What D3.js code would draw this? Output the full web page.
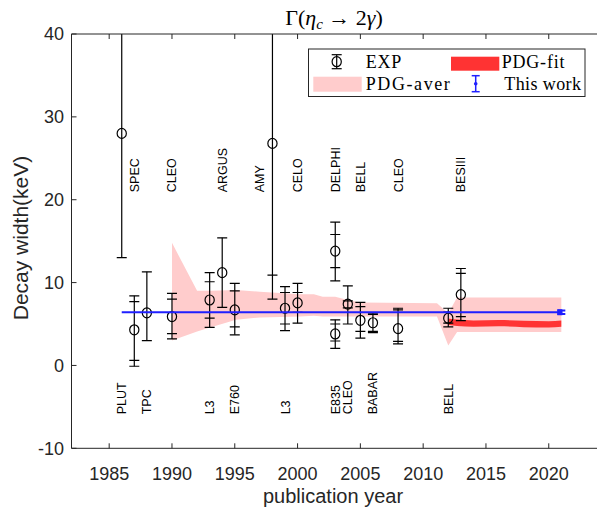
<!DOCTYPE html>
<html>
<head>
<meta charset="utf-8">
<script src="https://cdn.jsdelivr.net/npm/d3@7"></script>
<style>
  body { margin: 0; background: #fff; }
  svg { display: block; }
</style>
</head>
<body>
<svg></svg>
<script>
var width = 597;
var height = 509;

// experiments: year, central value, outer (total) and inner error bar ends
var expYears  = [1986, 1987, 1988, 1990, 1993, 1994, 1995, 1998, 1999, 2000, 2003, 2003, 2004, 2005, 2006, 2008, 2012, 2013];
var expValues = [28, 4.3, 6.35, 5.9, 7.9, 11.2, 6.7, 26.8, 6.9, 7.55, 13.8, 3.8, 7.4, 5.45, 5.15, 4.45, 5.7, 8.55];
var outerHi   = [48, 8.4, 11.3, 8.7, 11.2, 15.4, 9.9, 48, 9.5, 9.9, 17.3, 5.5, 9.6, 7.6, 6.3, 6.9, 6.9, 11.7];
var outerLo   = [13, -0.1, 3.0, 3.2, 4.6, 7.0, 3.7, 8.0, 4.2, 5.1, 10.2, 2.05, 5.0, 3.3, 3.95, 2.6, 4.65, 5.4];
var innerHi   = [null, 7.7, null, 8.0, 10.1, null, 9.0, 45, 8.8, 8.8, 15.8, 5.0, 7.8, 7.1, 6.15, 6.7, 6.45, 11.1];
var innerLo   = [null, 0.6, null, 3.85, 5.7, null, 4.65, 10.9, 5.0, 6.4, 11.8, 2.95, 6.95, 4.1, 4.1, 2.9, 5.1, 5.9];

// experiment names
var topLabels = ["SPEC", "CLEO", "ARGUS", "AMY", "CELO", "DELPHI", "BELL", "CLEO", "BESIII"];
var topLabelYears = [1987, 1990, 1994, 1997, 2000, 2003, 2005, 2008, 2013];
var bottomLabels = ["PLUT", "TPC", "L3", "E760", "L3", "E835", "CLEO", "BABAR", "BELL"];
var bottomLabelYears = [1986, 1988, 1993, 1995, 1999, 2003, 2004, 2006, 2012];

// PDG average band
var bandYears = [1990, 1992, 1993.1, 1995.1, 1997, 2000.2, 2001.3, 2002, 2003, 2004, 2005, 2011.1, 2012, 2012.7, 2021];
var bandHigh  = [14.8, 9.0, 9.0, 9.1, 8.9, 8.6, 8.6, 8.3, 8.3, 7.9, 7.6, 7.5, 6.3, 8.2, 8.2];
var bandLow   = [3.0, 4.1, 4.6, 5.5, 5.8, 5.9, 6.0, 5.9, 5.9, 5.9, 5.9, 5.9, 2.4, 4.05, 4.05];

// PDG fit
var fitYears  = [2012, 2012.7, 2014, 2016, 2018, 2020, 2021];
var fitValues = [5.3, 5.15, 5.05, 5.1, 5.0, 4.95, 5.05];
var fitErr = 0.38;

// this work
var thisWorkValue = 6.42;
var thisWorkErr = 0.2;
var thisWorkYears = [1986, 2021];

var xTicks = [1985, 1990, 1995, 2000, 2005, 2010, 2015, 2020];
var yTicks = [-10, 0, 10, 20, 30, 40];

var plotLeft = 71.5, plotRight = 599, plotTop = 34, plotBottom = 448.3;

var svg = d3.select("svg")
    .attr("width", width)
    .attr("height", height);

var xScale = d3.scaleLinear().domain([1982, 2024]).range([plotLeft, plotRight]);
var yScale = d3.scaleLinear().domain([-10, 40]).range([plotBottom, plotTop]);

svg.append("clipPath").attr("id", "plot-clip")
  .append("rect")
    .attr("x", plotLeft).attr("y", plotTop)
    .attr("width", plotRight - plotLeft).attr("height", plotBottom - plotTop);

var plot = svg.append("g").attr("clip-path", "url(#plot-clip)");

// band
var band = bandYears.map((y, i) => ({x: y, lo: bandLow[i], hi: bandHigh[i]}));
plot.append("path")
    .datum(band)
    .attr("fill", "#ffcccc")
    .attr("d", d3.area().x(d => xScale(d.x)).y0(d => yScale(d.lo)).y1(d => yScale(d.hi)));

// fit
var fit = fitYears.map((y, i) => ({x: y, v: fitValues[i]}));
plot.append("path")
    .datum(fit)
    .attr("fill", "#ff3333")
    .attr("d", d3.area().curve(d3.curveMonotoneX)
      .x(d => xScale(d.x)).y0(d => yScale(d.v - fitErr)).y1(d => yScale(d.v + fitErr)));

// experimental points
var exps = expYears.map((y, i) => ({
  x: y, v: expValues[i], oh: outerHi[i], ol: outerLo[i], ih: innerHi[i], il: innerLo[i]
}));
var capW = 5;
var g = plot.selectAll(".exp").data(exps).enter().append("g")
    .attr("class", "exp")
    .attr("stroke", "#000")
    .attr("stroke-width", 1.2)
    .attr("fill", "none");

g.append("line")
    .attr("x1", d => xScale(d.x)).attr("x2", d => xScale(d.x))
    .attr("y1", d => yScale(d.ol)).attr("y2", d => yScale(d.oh));
["oh", "ol", "ih", "il"].forEach(function(k) {
  g.filter(d => d[k] !== null).append("line")
      .attr("x1", d => xScale(d.x) - capW).attr("x2", d => xScale(d.x) + capW)
      .attr("y1", d => yScale(d[k])).attr("y2", d => yScale(d[k]));
});
g.append("ellipse")
    .attr("cx", d => xScale(d.x)).attr("cy", d => yScale(d.v))
    .attr("rx", 4.6).attr("ry", 5);

// this work
plot.append("line")
    .attr("x1", xScale(thisWorkYears[0])).attr("x2", xScale(thisWorkYears[1]))
    .attr("y1", yScale(thisWorkValue)).attr("y2", yScale(thisWorkValue))
    .attr("stroke", "#1f1fff").attr("stroke-width", 2);
var tw = plot.append("g").attr("stroke", "#1f1fff").attr("stroke-width", 2);
var twx = xScale(thisWorkYears[1]);
tw.append("line").attr("x1", twx).attr("x2", twx)
    .attr("y1", yScale(thisWorkValue - thisWorkErr)).attr("y2", yScale(thisWorkValue + thisWorkErr));
[thisWorkValue - thisWorkErr, thisWorkValue + thisWorkErr].forEach(function(v) {
  tw.append("line").attr("x1", twx - 4).attr("x2", twx + 4)
      .attr("y1", yScale(v)).attr("y2", yScale(v));
});
tw.append("rect").attr("x", twx - 4).attr("y", yScale(thisWorkValue) - 3)
    .attr("width", 5).attr("height", 6).attr("fill", "#1f1fff").attr("stroke", "none");

// experiment labels
function addLabels(names, yrs, yVal) {
  svg.selectAll(null).data(names).enter().append("text")
      .attr("transform", (d, i) => "translate(" + xScale(yrs[i]) + "," + yScale(yVal) + ") rotate(-90)")
      .attr("dy", "0.36em")
      .style("font-family", "Arial, 'Liberation Sans', sans-serif")
      .style("font-size", "12.5px")
      .attr("fill", "#000")
      .text(d => d);
}
addLabels(topLabels, topLabelYears, 20.9);
addLabels(bottomLabels, bottomLabelYears, -5.9);

// axes frame
var axisColor = "#262626";
svg.append("line").attr("x1", plotLeft).attr("x2", plotLeft).attr("y1", plotTop).attr("y2", plotBottom)
    .attr("stroke", axisColor);
svg.append("line").attr("x1", plotLeft).attr("x2", width).attr("y1", plotBottom).attr("y2", plotBottom)
    .attr("stroke", axisColor);
svg.append("line").attr("x1", plotLeft).attr("x2", width).attr("y1", plotTop).attr("y2", plotTop)
    .attr("stroke", axisColor);

var tickLen = 5;
xTicks.forEach(function(t) {
  var x = xScale(t);
  svg.append("line").attr("x1", x).attr("x2", x).attr("y1", plotBottom).attr("y2", plotBottom - tickLen)
      .attr("stroke", axisColor);
  svg.append("line").attr("x1", x).attr("x2", x).attr("y1", plotTop).attr("y2", plotTop + tickLen)
      .attr("stroke", axisColor);
  svg.append("text").attr("x", x).attr("y", 479.5)
      .attr("text-anchor", "middle")
      .style("font-family", "Arial, 'Liberation Sans', sans-serif")
      .style("font-size", "18px")
      .attr("fill", axisColor)
      .text(t);
});
yTicks.forEach(function(t) {
  var y = yScale(t);
  svg.append("line").attr("x1", plotLeft).attr("x2", plotLeft + tickLen).attr("y1", y).attr("y2", y)
      .attr("stroke", axisColor);
  svg.append("text").attr("x", 64).attr("y", y).attr("dy", "0.36em")
      .attr("text-anchor", "end")
      .style("font-family", "Arial, 'Liberation Sans', sans-serif")
      .style("font-size", "18px")
      .attr("fill", axisColor)
      .text(t);
});

svg.append("text")
    .attr("x", 333).attr("y", 503)
    .attr("text-anchor", "middle")
    .style("font-family", "Arial, 'Liberation Sans', sans-serif")
    .style("font-size", "20px")
    .attr("fill", axisColor)
    .text("publication year");

svg.append("text")
    .attr("transform", "translate(28,238) rotate(-90)")
    .attr("text-anchor", "middle")
    .style("font-family", "Arial, 'Liberation Sans', sans-serif")
    .style("font-size", "21px")
    .attr("fill", axisColor)
    .text("Decay width(keV)");

// title
var title = svg.append("text")
    .attr("x", 334).attr("y", 25)
    .attr("text-anchor", "middle")
    .style("font-family", "'Liberation Serif', 'Times New Roman', serif")
    .style("font-size", "22px")
    .attr("fill", "#000");
title.append("tspan").text("Γ(");
title.append("tspan").style("font-style", "italic").text("η");
title.append("tspan").attr("dy", 4).style("font-size", "15px").style("font-style", "italic").text("c");
title.append("tspan").attr("dy", -4).text(" → 2");
title.append("tspan").style("font-style", "italic").text("γ");
title.append("tspan").text(")");

// legend
var lg = svg.append("g");
var serif = "'Liberation Serif', 'Times New Roman', serif";
lg.append("rect").attr("x", 308.5).attr("y", 49).attr("width", 276.5).attr("height", 47.5)
    .attr("fill", "#fff").attr("stroke", axisColor);
// EXP symbol
var ex = 336.7, ey = 61.7;
lg.append("line").attr("x1", ex).attr("x2", ex).attr("y1", ey - 7).attr("y2", ey + 7).attr("stroke", "#000").attr("stroke-width", 1.2);
[ey - 7, ey + 7].forEach(function(y) {
  lg.append("line").attr("x1", ex - 5).attr("x2", ex + 5).attr("y1", y).attr("y2", y).attr("stroke", "#000").attr("stroke-width", 1.2);
});
lg.append("ellipse").attr("cx", ex).attr("cy", ey).attr("rx", 4.6).attr("ry", 5)
    .attr("fill", "none").attr("stroke", "#000").attr("stroke-width", 1.2);
// PDG-fit swatch
lg.append("rect").attr("x", 451).attr("y", 56.7).attr("width", 48.3).attr("height", 14).attr("fill", "#ff3333");
// PDG-aver swatch
lg.append("rect").attr("x", 313.3).attr("y", 76.7).attr("width", 48.4).attr("height", 15).attr("fill", "#ffcccc");
// This work symbol
var bx = 475.7, by = 83.7;
lg.append("line").attr("x1", bx).attr("x2", bx).attr("y1", by - 8).attr("y2", by + 8).attr("stroke", "#1f1fff").attr("stroke-width", 1.5);
[by - 8, by + 8].forEach(function(y) {
  lg.append("line").attr("x1", bx - 4).attr("x2", bx + 4).attr("y1", y).attr("y2", y).attr("stroke", "#1f1fff").attr("stroke-width", 1.5);
});
lg.append("circle").attr("cx", bx).attr("cy", by).attr("r", 1.8).attr("fill", "#1f1fff");

var legendText = [["EXP", 365.7, 67.5, 0.8], ["PDG-fit", 501.7, 67.5, 0.8], ["PDG-aver", 365.7, 89.5, 1.6], ["This work", 504.3, 89.5, 0.4]];
legendText.forEach(function(t) {
  lg.append("text").attr("x", t[1]).attr("y", t[2])
      .style("font-family", serif)
      .style("font-size", "18px")
      .style("letter-spacing", t[3] + "px")
      .attr("fill", "#000")
      .text(t[0]);
});
</script>
</body>
</html>
